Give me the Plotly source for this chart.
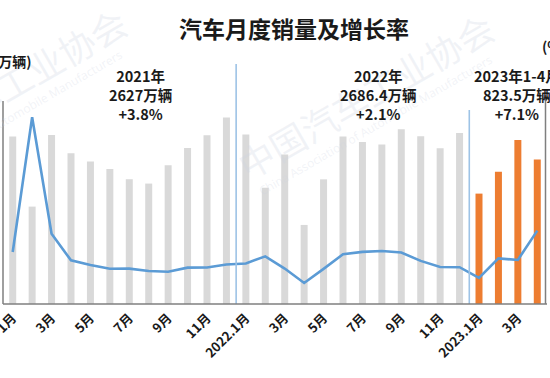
import plotly.graph_objects as go

# ---- data ----
months_idx = list(range(28))
sales_2021 = [250.3, 145.5, 252.6, 225.2, 212.8, 201.5, 186.4, 179.9, 207.1, 233.2, 252.2, 278.6]
sales_2022 = [253.1, 173.7, 223.4, 118.1, 186.2, 250.2, 242.0, 238.3, 261.0, 250.5, 232.6, 255.6]
sales_2023 = [164.9, 197.6, 245.1, 215.9]
growth = [29.5, 364.9, 74.9, 8.6, -3.1, -12.4, -11.9, -17.8, -19.6, -9.4, -9.1, -1.6,
          0.9, 18.7, -11.7, -47.6, -12.6, 23.8, 29.7, 32.1, 28.1, 7.3, -7.9, -8.4,
          -35.0, 13.5, 9.7, 82.7]
tick_pos = [0, 2, 4, 6, 8, 10, 12, 14, 16, 18, 20, 22, 24, 26]
tick_labels = ["1月", "3月", "5月", "7月", "9月", "11月", "2022.1月", "3月", "5月", "7月",
               "9月", "11月", "2023.1月", "3月"]
summary_2021 = ["2021年", "2627万辆", "+3.8%"]
summary_2022 = ["2022年", "2686.4万辆", "+2.1%"]
summary_2023 = ["2023年1-4月", "823.5万辆", "+7.1%"]

FONT = "Noto Sans CJK SC"
gray_sales = sales_2021 + sales_2022
x_gray = months_idx[:24]
x_orange = months_idx[24:]

fig = go.Figure()
fig.add_trace(go.Bar(x=x_gray, y=gray_sales, marker_color="#d9d9d9", width=0.36,
                     marker_line_width=0, showlegend=False, hoverinfo="skip"))
fig.add_trace(go.Bar(x=x_orange, y=sales_2023, marker_color="#ed7d31", width=0.36,
                     marker_line_width=0, showlegend=False, hoverinfo="skip"))
fig.add_trace(go.Scatter(x=months_idx, y=growth, yaxis="y2", mode="lines",
                         line=dict(color="#5b9bd5", width=2.6), showlegend=False,
                         hoverinfo="skip"))

W, H = 550, 378
L, R, T, B = 3, 3, 63, 74
pw, ph = W - L - R, H - T - B

def px(x):
    return (x - L) / pw

def py(y):
    return (H - B - y) / ph

shapes = [
    dict(type="line", xref="x", yref="paper", x0=11.5, x1=11.5, y0=0, y1=py(64),
         line=dict(color="#9dc3e6", width=1.6)),
    dict(type="line", xref="x", yref="paper", x0=23.5, x1=23.5, y0=0, y1=py(110),
         line=dict(color="#9dc3e6", width=1.6)),
    dict(type="line", xref="paper", yref="paper", x0=0, x1=1, y0=0, y1=0,
         line=dict(color="#7f7f7f", width=1.5)),
    dict(type="line", xref="paper", yref="paper", x0=0, x1=0, y0=0, y1=py(101),
         line=dict(color="#7f7f7f", width=1.5)),
    dict(type="line", xref="paper", yref="paper", x0=px(545.5), x1=px(545.5), y0=0, y1=py(95),
         line=dict(color="#7f7f7f", width=1.5)),
]

wm_color = "rgba(205,212,225,0.28)"
annotations = [
    # watermark
    dict(text="中国汽车工业协会", x=px(-2), y=py(90), xref="paper", yref="paper",
         xanchor="center", yanchor="middle",
         showarrow=False, textangle=-30, font=dict(family=FONT, size=36, color=wm_color)),
    dict(text="China Association of Automobile Manufacturers", x=px(5), y=py(120),
         xref="paper", yref="paper", showarrow=False, textangle=-30,
         xanchor="center", yanchor="middle",
         font=dict(family="Open Sans", size=12, color=wm_color)),
    dict(text="中国汽车工业协会", x=px(365), y=py(95), xref="paper", yref="paper",
         xanchor="center", yanchor="middle",
         showarrow=False, textangle=-30, font=dict(family=FONT, size=36, color=wm_color)),
    dict(text="China Association of Automobile Manufacturers", x=px(375), y=py(125),
         xref="paper", yref="paper", showarrow=False, textangle=-30,
         xanchor="center", yanchor="middle",
         font=dict(family="Open Sans", size=12, color=wm_color)),
    # title
    dict(text="<b>汽车月度销量及增长率</b>", x=px(294), y=py(28), xref="paper", yref="paper",
         showarrow=False, xanchor="center", yanchor="middle",
         font=dict(family=FONT, size=23, color="#1a1a1a")),
    dict(text="<b>(万辆)</b>", x=px(34), y=py(61), xref="paper", yref="paper",
         showarrow=False, xanchor="right", yanchor="middle",
         font=dict(family=FONT, size=14, color="#1a1a1a")),
    dict(text="<b>(%)</b>", x=px(540), y=py(46), xref="paper", yref="paper",
         showarrow=False, xanchor="left", yanchor="middle",
         font=dict(family=FONT, size=14, color="#1a1a1a")),
]
for lines, cx in [(summary_2021, 140), (summary_2022, 378), (summary_2023, 517)]:
    annotations.append(dict(text="<br>".join("<b>" + t + "</b>" for t in lines),
                            x=px(cx), y=py(94),
                            xref="paper", yref="paper", showarrow=False,
                            xanchor="center", yanchor="middle", align="center",
                            font=dict(family=FONT, size=14.5, color="#1a1a1a")))

fig.update_layout(
    width=W, height=H,
    margin=dict(l=L, r=R, t=T, b=B, pad=0, autoexpand=False),
    paper_bgcolor="white", plot_bgcolor="white",
    bargap=0.6,
    hovermode=False,
    xaxis=dict(range=[-0.5, 27.5], tickmode="array", tickvals=tick_pos,
               ticktext=["<b>" + t + "</b>" for t in tick_labels], tickangle=-45,
               showgrid=False, zeroline=False, showline=False, ticks="",
               automargin=False, ticklabeloverflow="allow", ticklabelstandoff=3,
               tickfont=dict(family=FONT, size=13, color="#1a1a1a")),
    yaxis=dict(range=[0, 360], visible=False, showgrid=False, automargin=False),
    yaxis2=dict(range=[-100, 500], overlaying="y", side="right", visible=False,
                showgrid=False, automargin=False),
    shapes=shapes,
    annotations=annotations,
    showlegend=False,
)

fig.write_html("out.html", config={"displayModeBar": False, "staticPlot": True},
               post_script="document.body.style.margin='0px';document.body.style.overflow='hidden';")
